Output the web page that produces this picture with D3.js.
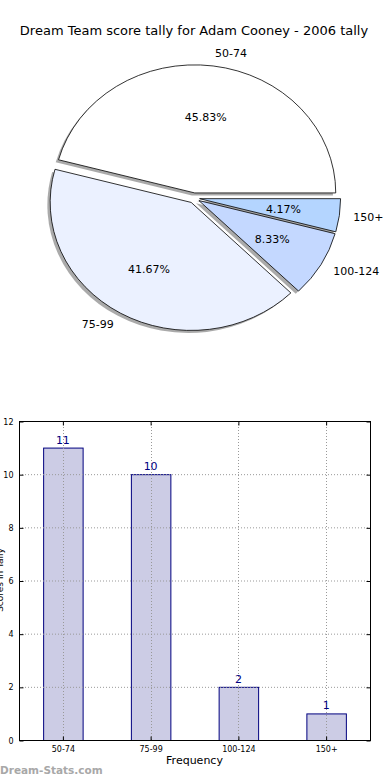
<!DOCTYPE html>
<html>
<head>
<meta charset="utf-8">
<script src="https://cdnjs.cloudflare.com/ajax/libs/d3/7.8.5/d3.min.js"></script>
<style>
  body { margin: 0; background: #fff; }
  svg text { font-family: "DejaVu Sans", sans-serif; }
</style>
</head>
<body>
<svg id="chart" width="390" height="780"></svg>
<script>
// score bands and how many tallies fell in each
var categories = ["50-74", "75-99", "100-124", "150+"];
var counts = [11, 10, 2, 1];
var sliceColors = ["#ffffff", "#ebf1ff", "#c4d8ff", "#b4d5ff"];
var yTicks = [0, 2, 4, 6, 8, 10, 12];

var svg = d3.select("#chart");

svg.append("text")
    .attr("x", 194).attr("y", 35)
    .attr("text-anchor", "middle")
    .style("font-size", "13px")
    .text("Dream Team score tally for Adam Cooney - 2006 tally");

/**
 * Pie: matplotlib style, starts at 3 o'clock and goes counter-clockwise,
 * stretched into an ellipse, every slice exploded a little.
 */
var cx = 194, cy = 198, rx = 141, ry = 128, explode = 0.04;
var total = d3.sum(counts);

var pie = d3.pie().sort(null)
    .startAngle(Math.PI / 2)
    .endAngle(Math.PI / 2 - 2 * Math.PI);
var arcs = pie(counts);
var arc = d3.arc().innerRadius(0).outerRadius(1);

function midOf(d) { return (d.startAngle + d.endAngle) / 2; }
// point at k radii along a d3 angle, on the ellipse
function pt(a, k) { return [k * rx * Math.sin(a), -k * ry * Math.cos(a)]; }

var pieG = svg.append("g").attr("transform", "translate(" + cx + "," + cy + ")");

// shadows first, all beneath the wedges
pieG.selectAll("path.shadow").data(arcs).enter().append("path")
    .attr("class", "shadow")
    .attr("d", arc)
    .attr("transform", d => {
      var o = pt(midOf(d), explode);
      return "translate(" + (o[0] - 2.8) + "," + (o[1] + 2.6) + ") scale(" + rx + "," + ry + ")";
    })
    .attr("fill", "#555")
    .attr("fill-opacity", 0.5);

pieG.selectAll("path.wedge").data(arcs).enter().append("path")
    .attr("class", "wedge")
    .attr("d", arc)
    .attr("transform", d => {
      var o = pt(midOf(d), explode);
      return "translate(" + o[0] + "," + o[1] + ") scale(" + rx + "," + ry + ")";
    })
    .attr("fill", (d, i) => sliceColors[i])
    .attr("stroke", "#000")
    .attr("stroke-width", 0.8)
    .attr("vector-effect", "non-scaling-stroke");

pieG.selectAll("text.label").data(arcs).enter().append("text")
    .attr("class", "label")
    .attr("x", d => pt(midOf(d), 1.1 + explode)[0])
    .attr("y", d => pt(midOf(d), 1.1 + explode)[1])
    .attr("dy", "0.35em")
    .attr("text-anchor", d => pt(midOf(d), 1)[0] > 0 ? "start" : "end")
    .style("font-size", "11px")
    .text((d, i) => categories[i]);

pieG.selectAll("text.pct").data(arcs).enter().append("text")
    .attr("class", "pct")
    .attr("x", d => pt(midOf(d), 0.6 + explode)[0])
    .attr("y", d => pt(midOf(d), 0.6 + explode)[1])
    .attr("dy", "0.35em")
    .attr("text-anchor", "middle")
    .style("font-size", "11px")
    .text(d => (d.value / total * 100).toFixed(2) + "%");

/**
 * Bar chart underneath.
 */
var plotLeft = 19, plotRight = 370, plotTop = 421, plotBottom = 740;

var x = d3.scaleBand().domain(categories).range([plotLeft, plotRight])
    .paddingInner(0.55).paddingOuter(0.275);
var y = d3.scaleLinear().domain([0, 12]).range([plotBottom, plotTop]);

svg.selectAll("rect.bar").data(counts).enter().append("rect")
    .attr("class", "bar")
    .attr("x", (d, i) => x(categories[i]) + 0.5)
    .attr("y", d => y(d) + 0.5)
    .attr("width", x.bandwidth())
    .attr("height", d => plotBottom - y(d))
    .attr("fill", "#ccccE5")
    .attr("stroke", "#00007f")
    .attr("stroke-width", 1);

// grid sits over the bars, as in the original
var grid = svg.append("g")
    .attr("stroke", "#999")
    .attr("stroke-width", 1)
    .attr("stroke-dasharray", "1,2");
grid.selectAll("line.vx").data(categories).enter().append("line")
    .attr("x1", d => Math.round(x(d) + x.bandwidth() / 2) + 0.5)
    .attr("x2", d => Math.round(x(d) + x.bandwidth() / 2) + 0.5)
    .attr("y1", plotTop).attr("y2", plotBottom);
grid.selectAll("line.hy").data(yTicks).enter().append("line")
    .attr("x1", plotLeft)
    .attr("x2", plotRight)
    .attr("y1", d => y(d) + 0.5).attr("y2", d => y(d) + 0.5);

svg.selectAll("text.val").data(counts).enter().append("text")
    .attr("class", "val")
    .attr("x", (d, i) => x(categories[i]) + x.bandwidth() / 2)
    .attr("y", d => y(d) - 4)
    .attr("text-anchor", "middle")
    .attr("fill", "#00007f")
    .style("font-size", "11px")
    .text(d => d);

svg.append("rect")
    .attr("x", plotLeft + 0.5).attr("y", plotTop + 0.5)
    .attr("width", plotRight - plotLeft).attr("height", plotBottom - plotTop)
    .attr("fill", "none").attr("stroke", "#000").attr("stroke-width", 1);

var yAxis = d3.axisLeft(y).tickValues(yTicks).tickSizeInner(-4).tickSizeOuter(0).tickPadding(6);
var gy = svg.append("g").attr("transform", "translate(" + (plotLeft + 0.5) + ",0.5)").call(yAxis);
gy.select(".domain").remove();
gy.selectAll("text").style("font-size", "8px").attr("font-family", "DejaVu Sans");

var yAxisR = d3.axisRight(y).tickValues(yTicks).tickSizeInner(-4).tickSizeOuter(0).tickFormat("");
var gyr = svg.append("g").attr("transform", "translate(" + (plotRight + 0.5) + ",0.5)").call(yAxisR);
gyr.select(".domain").remove();

var xAxis = d3.axisBottom(x).tickSizeInner(-4).tickSizeOuter(0).tickPadding(6);
var gx = svg.append("g").attr("transform", "translate(0.5," + (plotBottom + 0.5) + ")").call(xAxis);
gx.select(".domain").remove();
gx.selectAll("text").style("font-size", "8px").attr("font-family", "DejaVu Sans");

var xAxisT = d3.axisTop(x).tickSizeInner(-4).tickSizeOuter(0).tickFormat("");
var gxt = svg.append("g").attr("transform", "translate(0.5," + (plotTop + 0.5) + ")").call(xAxisT);
gxt.select(".domain").remove();

svg.append("text")
    .attr("x", (plotLeft + plotRight) / 2).attr("y", 764)
    .attr("text-anchor", "middle")
    .style("font-size", "11px")
    .text("Frequency");

// y label is clipped by the left edge in the original
svg.append("text")
    .attr("transform", "translate(3,580) rotate(-90)")
    .attr("text-anchor", "middle")
    .style("font-size", "9px")
    .text("Scores in Tally");

svg.append("text")
    .attr("x", 0).attr("y", 774)
    .attr("fill", "#a8a8a8")
    .style("font-size", "10.5px")
    .style("font-weight", "bold")
    .text("Dream-Stats.com");
</script>
</body>
</html>
